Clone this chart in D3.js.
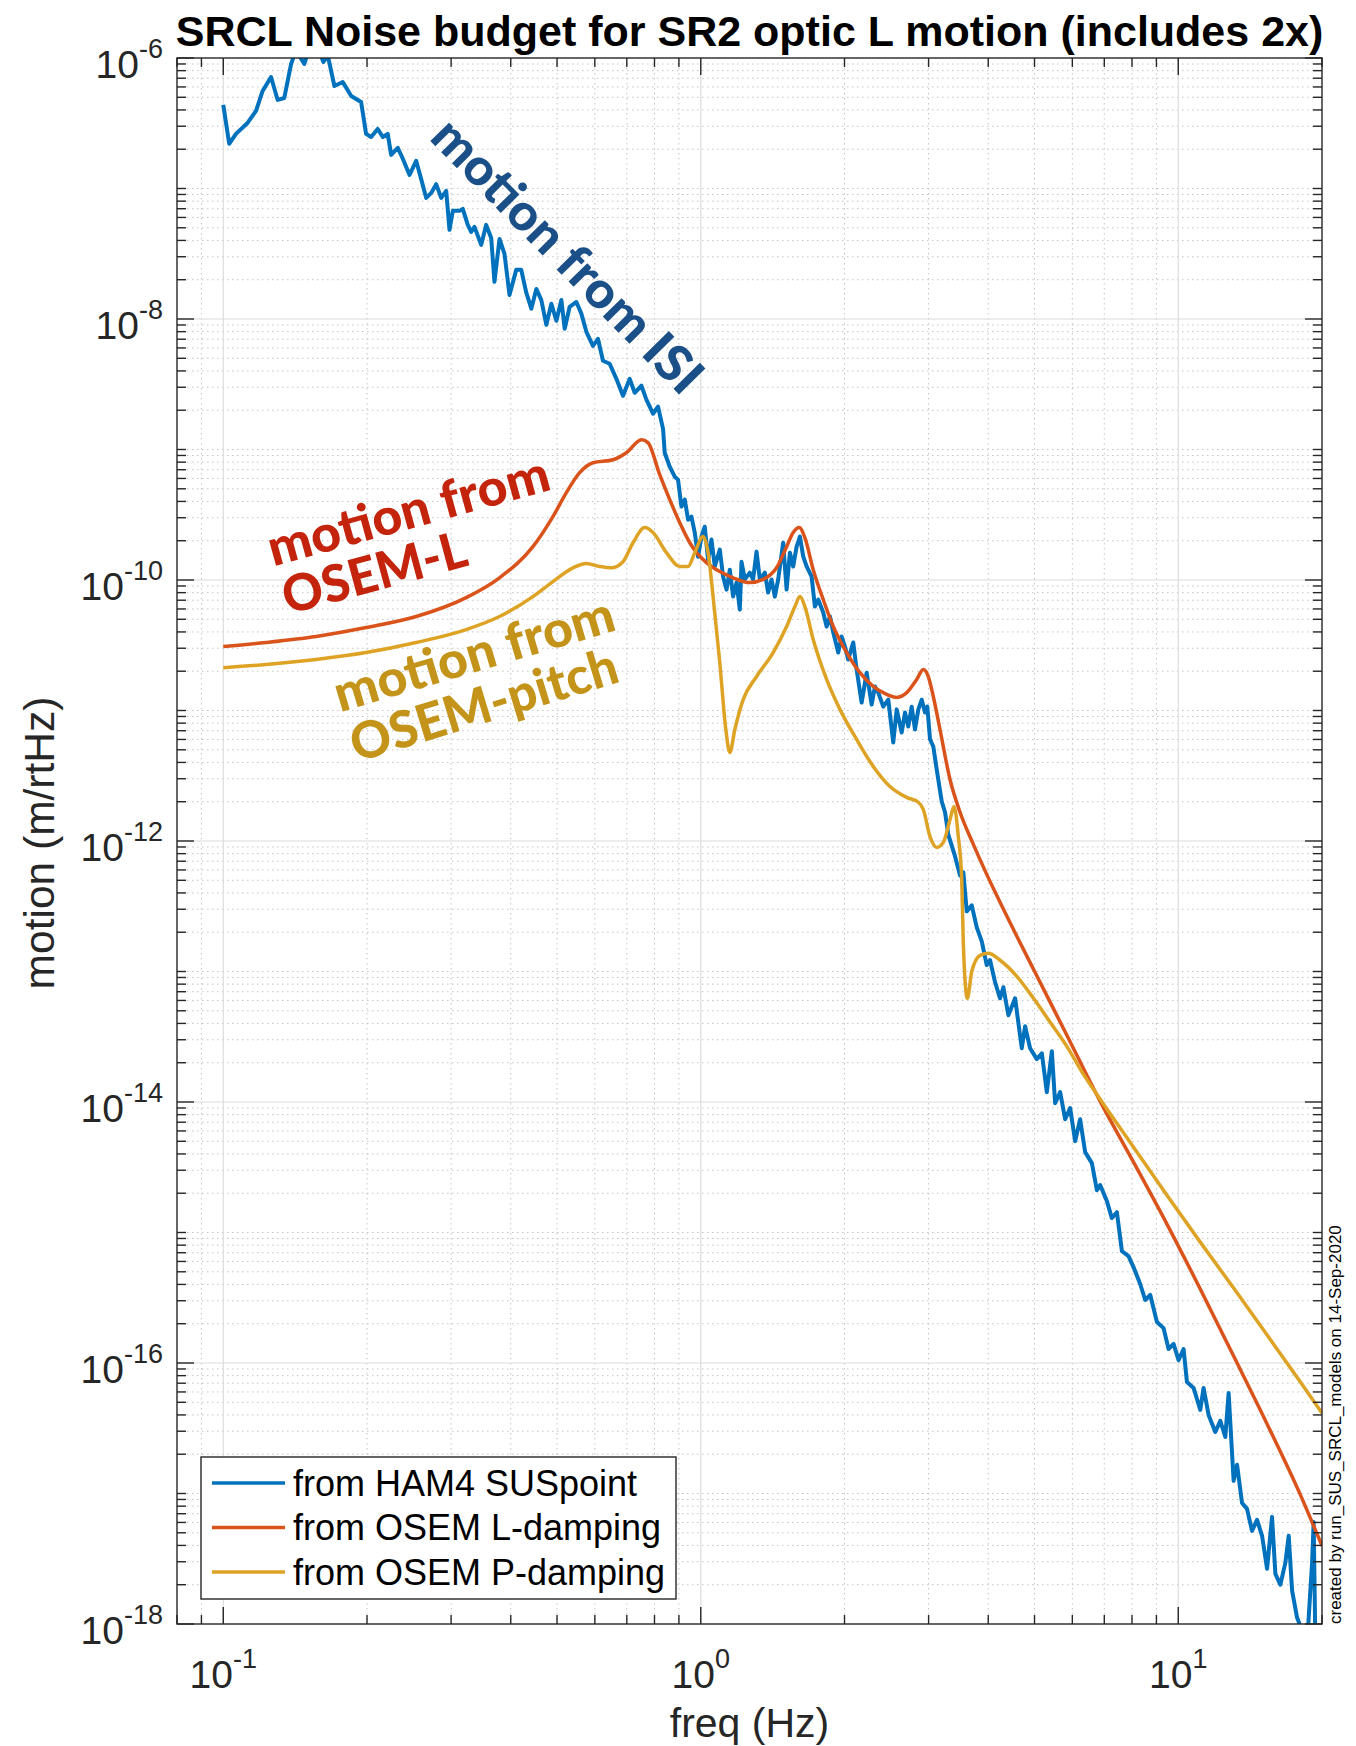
<!DOCTYPE html>
<html><head><meta charset="utf-8">
<script src="https://cdn.jsdelivr.net/npm/d3@7"></script>
<style>html,body{margin:0;padding:0;background:#fff;}svg{display:block;}</style>
</head><body>
<svg id="chart" width="1356" height="1746"></svg>
<script>
// ---------- data (freq Hz, motion m/rtHz) ----------
const hamSUSpoint = [[0.1,4.37e-7],[0.1029,2.20e-7],[0.1063,2.62e-7],[0.1124,3.18e-7],[0.1171,3.93e-7],[0.1209,5.59e-7],[0.1259,7.15e-7],[0.1300,4.77e-7],[0.1342,4.94e-7],[0.1387,9.0e-7],[0.1420,1.15e-6],[0.1478,9.0e-7],[0.1515,1.19e-6],[0.1577,1.19e-6],[0.1621,9.32e-7],[0.1655,1.05e-6],[0.1709,6.1e-7],[0.1779,6.55e-7],[0.1853,5.12e-7],[0.1944,4.6e-7],[0.1991,2.62e-7],[0.2040,2.48e-7],[0.2106,2.86e-7],[0.2158,2.48e-7],[0.2210,2.62e-7],[0.2247,1.81e-7],[0.2320,2.05e-7],[0.2377,1.69e-7],[0.2455,1.27e-7],[0.2535,1.63e-7],[0.2597,1.18e-7],[0.2661,8.47e-8],[0.2726,9.25e-8],[0.2792,1.08e-7],[0.2860,8.47e-8],[0.2930,9.59e-8],[0.2977,4.82e-8],[0.3025,6.74e-8],[0.3124,6.74e-8],[0.3174,6.98e-8],[0.3251,5.26e-8],[0.3305,4.65e-8],[0.3358,5.08e-8],[0.3469,3.70e-8],[0.3553,5.26e-8],[0.3640,4.18e-8],[0.3698,1.93e-8],[0.3789,4.11e-8],[0.3881,3.16e-8],[0.3976,1.53e-8],[0.4107,2.38e-8],[0.4208,2.38e-8],[0.4311,1.59e-8],[0.4417,1.20e-8],[0.4525,1.70e-8],[0.4634,1.40e-8],[0.4749,9.03e-9],[0.4865,1.31e-8],[0.4984,9.69e-9],[0.5106,1.40e-8],[0.5188,8.41e-9],[0.5314,1.24e-8],[0.5489,1.35e-8],[0.5622,1.10e-8],[0.5760,7.98e-9],[0.5946,6.23e-9],[0.6091,7.05e-9],[0.6240,4.79e-9],[0.6445,4.54e-9],[0.6657,3.48e-9],[0.6873,2.58e-9],[0.7099,3.48e-9],[0.7272,2.72e-9],[0.7511,3.08e-9],[0.7694,2.41e-9],[0.7943,1.88e-9],[0.8137,2.13e-9],[0.8337,1.44e-9],[0.8404,9.45e-10],[0.8610,7.38e-10],[0.8820,6.19e-10],[0.8962,5.87e-10],[0.9109,3.65e-10],[0.9258,4.13e-10],[0.9407,2.90e-10],[0.9561,3.06e-10],[0.9714,2.31e-10],[0.9870,1.51e-10],[1.0034,2.15e-10],[1.0195,2.56e-10],[1.0359,1.43e-10],[1.0529,2.04e-10],[1.0700,1.27e-10],[1.0961,1.71e-10],[1.1137,1.06e-10],[1.1322,8.44e-11],[1.1504,1.20e-10],[1.1688,7.46e-11],[1.1881,9.55e-11],[1.2072,5.93e-11],[1.2171,1.38e-10],[1.2366,1.01e-10],[1.2668,1.14e-10],[1.2871,1.01e-10],[1.3086,1.65e-10],[1.3296,1.01e-10],[1.3621,1.14e-10],[1.3839,8.01e-11],[1.4067,1.01e-10],[1.4293,7.46e-11],[1.4525,1.01e-10],[1.4878,1.93e-10],[1.5127,8.44e-11],[1.5370,1.62e-10],[1.5617,1.27e-10],[1.5875,1.80e-10],[1.6130,2.15e-10],[1.6391,1.51e-10],[1.6661,1.27e-10],[1.7068,1.06e-10],[1.7338,6.26e-11],[1.7620,7.08e-11],[1.8050,5.63e-11],[1.8348,4.40e-11],[1.8642,5.25e-11],[1.8945,3.96e-11],[1.9405,2.78e-11],[1.9724,3.69e-11],[2.0040,3.09e-11],[2.0362,2.46e-11],[2.0860,3.32e-11],[2.1204,2.06e-11],[2.1723,1.15e-11],[2.2254,1.95e-11],[2.2798,1.11e-11],[2.3164,1.53e-11],[2.3535,1.37e-11],[2.4111,1.07e-11],[2.4700,1.21e-11],[2.5299,5.69e-12],[2.5722,1.02e-11],[2.6352,6.78e-12],[2.6774,9.65e-12],[2.7203,7.54e-12],[2.7652,1.07e-11],[2.8095,7.15e-12],[2.8552,1.02e-11],[2.9022,1.21e-11],[2.9487,9.65e-12],[2.9815,1.07e-11],[3.0210,6.00e-12],[3.0690,5.30e-12],[3.1196,3.53e-12],[3.1960,2.01e-12],[3.2472,1.66e-12],[3.2993,1.12e-12],[3.4082,7.62e-13],[3.4914,5.45e-13],[3.5474,5.75e-13],[3.6060,2.89e-13],[3.6942,3.21e-13],[3.7844,2.18e-13],[3.8770,1.70e-13],[3.9708,1.12e-13],[4.0353,1.22e-13],[4.1340,8.27e-14],[4.2343,6.23e-14],[4.3031,7.57e-14],[4.4075,4.62e-14],[4.5530,6.23e-14],[4.7023,2.58e-14],[4.7777,3.81e-14],[4.8946,2.58e-14],[5.0559,2.13e-14],[5.1800,2.36e-14],[5.3055,1.19e-14],[5.4352,2.45e-14],[5.5222,9.79e-15],[5.6572,1.19e-14],[5.7956,7.38e-15],[5.9373,8.97e-15],[6.0825,5.01e-15],[6.2300,7.38e-15],[6.3826,4.13e-15],[6.5930,3.40e-15],[6.7542,2.11e-15],[6.8624,2.31e-15],[7.0873,1.74e-15],[7.2605,1.29e-15],[7.4379,1.43e-15],[7.6208,7.20e-16],[7.8669,6.60e-16],[8.0593,5.43e-16],[8.3236,4.03e-16],[8.5273,3.04e-16],[8.7359,3.32e-16],[9.0222,2.06e-16],[9.3156,1.85e-16],[9.5434,1.28e-16],[9.7768,1.40e-16],[10.014,1.05e-16],[10.259,1.28e-16],[10.428,7.15e-17],[10.767,6.44e-17],[11.119,4.37e-17],[11.298,6.44e-17],[11.574,4.00e-17],[11.956,2.96e-17],[12.248,3.60e-17],[12.546,2.71e-17],[12.750,5.89e-17],[13.060,1.25e-17],[13.278,1.66e-17],[13.600,8.47e-18],[13.932,7.62e-18],[14.272,5.17e-18],[14.622,6.28e-18],[14.979,4.74e-18],[15.346,2.65e-18],[15.717,6.62e-18],[15.973,2.42e-18],[16.360,2.00e-18],[16.760,2.94e-18],[17.033,4.74e-18],[17.314,1.80e-18],[17.734,1.12e-18],[18.612,7.06e-19],[19.066,2.94e-18],[19.212,6.06e-18],[19.372,7.06e-19]];

const osemLDamping = [[0.1,3.09e-11],[0.1229,3.32e-11],[0.1564,3.69e-11],[0.1991,4.32e-11],[0.2535,5.25e-11],[0.3226,7.33e-11],[0.3789,1.04e-10],[0.4451,1.80e-10],[0.4902,3.06e-10],[0.5230,4.67e-10],[0.5576,6.64e-10],[0.5946,7.92e-10],[0.6548,8.35e-10],[0.6985,9.45e-10],[0.7511,1.19e-9],[0.7752,1.13e-9],[0.8204,6.41e-10],[0.8610,4.13e-10],[0.9036,2.75e-10],[0.9483,1.93e-10],[0.9870,1.57e-10],[1.0278,1.36e-10],[1.0961,1.16e-10],[1.1688,1.04e-10],[1.2668,9.55e-11],[1.3508,1.01e-10],[1.4412,1.24e-10],[1.5127,1.80e-10],[1.5617,2.31e-10],[1.6077,2.52e-10],[1.6520,2.11e-10],[1.7198,1.20e-10],[1.8050,7.08e-11],[1.8945,4.40e-11],[2.0207,2.78e-11],[2.1544,1.95e-11],[2.2972,1.53e-11],[2.4507,1.33e-11],[2.5722,1.26e-11],[2.6992,1.37e-11],[2.8330,1.73e-11],[2.9242,2.06e-11],[2.9958,1.82e-11],[3.0690,1.28e-11],[3.1696,7.15e-12],[3.3266,2.96e-12],[3.4914,1.66e-12],[3.7224,9.42e-13],[3.9708,5.55e-13],[4.2343,3.39e-13],[4.9757,1.04e-13],[5.8438,3.25e-14],[6.8624,1.01e-14],[8.0593,3.46e-15],[9.4692,1.16e-15],[11.119,3.69e-16],[13.060,1.13e-16],[15.346,3.41e-17],[18.022,9.76e-18],[20,3.97e-18]];

const osemPDamping = [[0.1,2.13e-11],[0.1229,2.25e-11],[0.1564,2.46e-11],[0.1991,2.78e-11],[0.2535,3.32e-11],[0.3226,4.17e-11],[0.3789,5.25e-11],[0.4451,7.46e-11],[0.4902,9.72e-11],[0.5398,1.24e-10],[0.5760,1.34e-10],[0.6142,1.27e-10],[0.6498,1.24e-10],[0.6873,1.38e-10],[0.7213,1.93e-10],[0.7631,2.52e-10],[0.7943,2.31e-10],[0.8475,1.62e-10],[0.9036,1.27e-10],[0.9407,1.27e-10],[0.9714,1.62e-10],[1.0111,2.15e-10],[1.0359,1.62e-10],[1.0612,7.46e-11],[1.0961,2.33e-11],[1.1284,7.15e-12],[1.1504,4.77e-12],[1.1786,7.15e-12],[1.2268,1.21e-11],[1.3086,1.82e-11],[1.4178,2.78e-11],[1.5127,4.40e-11],[1.5748,6.26e-11],[1.6130,7.46e-11],[1.6520,6.26e-11],[1.7198,3.50e-11],[1.8348,1.73e-11],[1.9563,1.02e-11],[2.1204,6.00e-12],[2.2972,3.73e-12],[2.4899,2.62e-12],[2.6992,2.16e-12],[2.8552,1.98e-12],[2.9242,1.75e-12],[3.0210,1.08e-12],[3.1196,8.93e-13],[3.2211,9.76e-13],[3.3266,1.46e-12],[3.3915,1.84e-12],[3.4627,1.08e-12],[3.5198,5.08e-13],[3.5474,1.62e-13],[3.6165,6.23e-14],[3.6942,1.00e-13],[3.8450,1.33e-13],[4.0020,1.38e-13],[4.2343,1.22e-13],[4.5908,9.19e-14],[4.9757,6.23e-14],[5.3925,4.08e-14],[5.8438,2.67e-14],[6.3314,1.63e-14],[6.8624,1.05e-14],[8.0593,4.51e-15],[9.4692,1.93e-15],[11.119,8.44e-16],[13.060,3.75e-16],[15.346,1.64e-16],[18.022,7.15e-17],[20,4.14e-17]];

const seriesNames = ["from HAM4 SUSpoint", "from OSEM L-damping", "from OSEM P-damping"];
const xMajorTicks = [0.1, 1, 10];
const xTickExponents = [-1, 0, 1];
const yMajorTicks = [1e-18, 1e-16, 1e-14, 1e-12, 1e-10, 1e-8, 1e-6];
const yTickExponents = [-18, -16, -14, -12, -10, -8, -6];

// ---------- layout ----------
const X0 = 177, X1 = 1322, Y0 = 58, Y1 = 1624;
const FONT = "'Liberation Sans', Arial, Helvetica, sans-serif";
const ANN = "Lato, 'Open Sans', sans-serif";
const COLORS = ["#0072BD", "#D9531A", "#DEA325"];
const AXC = "#262626";

const svg = d3.select('#chart');
const x = d3.scaleLog().domain([0.08, 20]).range([X0, X1]);
const y = d3.scaleLog().domain([1e-18, 1e-6]).range([Y1, Y0]);

svg.append('rect').attr('width', 1356).attr('height', 1746).attr('fill', '#fff');
svg.append('defs').append('clipPath').attr('id', 'clip')
  .append('rect').attr('x', X0).attr('y', Y0).attr('width', X1 - X0).attr('height', Y1 - Y0);

const near = (a, b) => Math.abs(Math.log10(a / b)) < 1e-6;
const xAll = x.ticks(40);
const yAll = y.ticks(40);
const xMinor = xAll.filter(v => !xMajorTicks.some(m => near(v, m)));
const yMinor = yAll.filter(v => !yMajorTicks.some(m => near(v, m)));

// grid
const grid = svg.append('g');
grid.selectAll('.gxm').data(xMinor.filter(v => x(v) > X0 + 1 && x(v) < X1 - 1)).join('line')
  .attr('x1', d => x(d)).attr('x2', d => x(d)).attr('y1', Y0).attr('y2', Y1)
  .attr('stroke', '#c4c4c4').attr('stroke-width', 1).attr('stroke-dasharray', '1.5,3.5');
grid.selectAll('.gym').data(yMinor).join('line')
  .attr('y1', d => y(d)).attr('y2', d => y(d)).attr('x1', X0).attr('x2', X1)
  .attr('stroke', '#c4c4c4').attr('stroke-width', 1).attr('stroke-dasharray', '1.5,3.5');
grid.selectAll('.gxM').data(xMajorTicks).join('line')
  .attr('x1', d => x(d)).attr('x2', d => x(d)).attr('y1', Y0).attr('y2', Y1)
  .attr('stroke', '#dcdcdc').attr('stroke-width', 1.2);
grid.selectAll('.gyM').data(yMajorTicks.filter(v => y(v) > Y0 + 1 && y(v) < Y1 - 1)).join('line')
  .attr('y1', d => y(d)).attr('y2', d => y(d)).attr('x1', X0).attr('x2', X1)
  .attr('stroke', '#dcdcdc').attr('stroke-width', 1.2);

// curves
const plot = svg.append('g').attr('clip-path', 'url(#clip)');
const lineLin = d3.line().x(d => x(d[0])).y(d => y(d[1]));
const lineSmooth = d3.line().x(d => x(d[0])).y(d => y(d[1])).curve(d3.curveMonotoneX);
plot.append('path').datum(hamSUSpoint).attr('d', lineLin)
  .attr('fill', 'none').attr('stroke', COLORS[0]).attr('stroke-width', 4).attr('stroke-linejoin', 'round');
plot.append('path').datum(osemLDamping).attr('d', lineSmooth)
  .attr('fill', 'none').attr('stroke', COLORS[1]).attr('stroke-width', 3.5);
plot.append('path').datum(osemPDamping).attr('d', lineSmooth)
  .attr('fill', 'none').attr('stroke', COLORS[2]).attr('stroke-width', 3.5);

// axes box + ticks
const ax = svg.append('g').attr('stroke', AXC).attr('stroke-width', 1.4);
const MAJ = 17, MIN = 9;
xAll.forEach(v => {
  const L = xMajorTicks.some(m => near(v, m)) ? MAJ : MIN;
  const px = x(v);
  ax.append('line').attr('x1', px).attr('x2', px).attr('y1', Y1).attr('y2', Y1 - L);
  ax.append('line').attr('x1', px).attr('x2', px).attr('y1', Y0).attr('y2', Y0 + L);
});
yAll.forEach(v => {
  const L = yMajorTicks.some(m => near(v, m)) ? MAJ : MIN;
  const py = y(v);
  ax.append('line').attr('y1', py).attr('y2', py).attr('x1', X0).attr('x2', X0 + L);
  ax.append('line').attr('y1', py).attr('y2', py).attr('x1', X1).attr('x2', X1 - L);
});
ax.append('rect').attr('x', X0).attr('y', Y0).attr('width', X1 - X0).attr('height', Y1 - Y0).attr('fill', 'none');

// tick labels
function expLabel(t, e) {
  t.append('tspan').text('10');
  t.append('tspan').attr('dy', -20).attr('font-size', 27).text(String(e));
}
xMajorTicks.forEach((v, i) => {
  const t = svg.append('text').attr('x', x(v)).attr('y', 1688).attr('text-anchor', 'middle')
    .attr('font-family', FONT).attr('font-size', 39).attr('fill', AXC);
  expLabel(t, xTickExponents[i]);
});
yMajorTicks.forEach((v, i) => {
  const t = svg.append('text').attr('x', 163).attr('y', y(v) + 20).attr('text-anchor', 'end')
    .attr('font-family', FONT).attr('font-size', 39).attr('fill', AXC);
  expLabel(t, yTickExponents[i]);
});

// title & axis labels
svg.append('text').attr('x', (X0 + X1) / 2).attr('y', 46).attr('text-anchor', 'middle')
  .attr('font-family', FONT).attr('font-weight', 'bold').attr('font-size', 43).attr('fill', '#000')
  .text('SRCL Noise budget for SR2 optic L motion (includes 2x)');
svg.append('text').attr('x', (X0 + X1) / 2).attr('y', 1737).attr('text-anchor', 'middle')
  .attr('font-family', FONT).attr('font-size', 41).attr('fill', AXC).text('freq (Hz)');
svg.append('text').attr('transform', 'translate(54,843) rotate(-90)').attr('text-anchor', 'middle')
  .attr('font-family', FONT).attr('font-size', 42.5).attr('fill', AXC).text('motion (m/rtHz)');
svg.append('text').attr('transform', 'translate(1341,1624) rotate(-90)').attr('text-anchor', 'start')
  .attr('font-family', FONT).attr('font-size', 17).attr('fill', '#000')
  .text('created by run_SUS_SRCL_models on 14-Sep-2020');

// legend
const lg = svg.append('g');
lg.append('rect').attr('x', 201).attr('y', 1457).attr('width', 475).attr('height', 142)
  .attr('fill', '#fff').attr('stroke', AXC).attr('stroke-width', 1.4);
seriesNames.forEach((s, i) => {
  const ly = 1483 + i * 44.5;
  lg.append('line').attr('x1', 212).attr('x2', 285).attr('y1', ly).attr('y2', ly)
    .attr('stroke', COLORS[i]).attr('stroke-width', 3.6);
  lg.append('text').attr('x', 293).attr('y', ly + 12.5).attr('font-family', FONT)
    .attr('font-size', 36).attr('fill', '#000').text(s);
});

// annotations
function ann(txt, cx, cy, ang, len, col) {
  svg.append('text').attr('transform', `translate(${cx},${cy}) rotate(${ang})`)
    .attr('text-anchor', 'middle').attr('font-family', ANN).attr('font-weight', 900)
    .attr('font-size', 51).attr('fill', col)
    .attr('textLength', len).attr('lengthAdjust', 'spacingAndGlyphs').text(txt);
}
ann('motion from ISI', 555, 268, 45.5, 362, '#1B4F88');
ann('motion from', 413, 528, -15.4, 290, '#C4230C');
ann('OSEM-L', 379, 590, -15.2, 189, '#C4230C');
ann('motion from', 479, 671, -16.5, 290, '#C39419');
ann('OSEM-pitch', 489, 722, -17, 277, '#C39419');
</script>
</body></html>
